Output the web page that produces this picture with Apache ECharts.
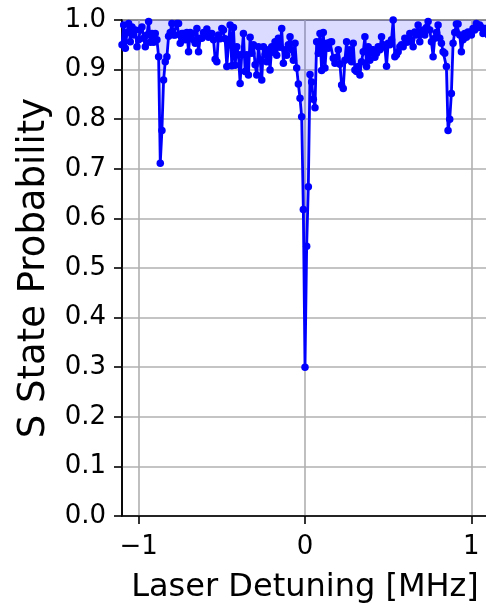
<!DOCTYPE html>
<html>
<head>
<meta charset="utf-8">
<script src="https://cdn.jsdelivr.net/npm/echarts@6/dist/echarts.min.js"></script>
<style>
  html, body { margin: 0; padding: 0; background: #ffffff; }
  #chart { width: 486px; height: 603px; }
</style>
</head>
<body>
<div id="chart"></div>
<script>
// Laser frequency scan: detuning grid (MHz) and measured S-state probability
const scanStart = -1.10;
const scanStep = 0.01;
const sProbability = [
  0.950, 0.990, 0.943, 0.975, 0.993, 0.956, 0.986, 0.970, 0.980, 0.946,
  0.960, 0.980, 0.986, 0.963, 0.946, 0.970, 0.997, 0.955, 0.973, 0.955,
  0.973, 0.960, 0.926, 0.711, 0.777, 0.879, 0.916, 0.926, 0.967, 0.975,
  0.993, 0.970, 0.970, 0.993, 0.993, 0.953, 0.973, 0.973, 0.960, 0.975,
  0.936, 0.975, 0.973, 0.960, 0.953, 0.983, 0.936, 0.963, 0.963, 0.975,
  0.970, 0.982, 0.965, 0.970, 0.973, 0.960, 0.921, 0.916, 0.970, 0.962,
  0.983, 0.980, 0.962, 0.906, 0.950, 0.990, 0.908, 0.985, 0.909, 0.946,
  0.930, 0.872, 0.930, 0.973, 0.896, 0.930, 0.889, 0.965, 0.933, 0.950,
  0.910, 0.889, 0.946, 0.920, 0.879, 0.946, 0.930, 0.916, 0.940, 0.899,
  0.946, 0.935, 0.956, 0.929, 0.963, 0.945, 0.983, 0.913, 0.940, 0.929,
  0.950, 0.966, 0.940, 0.919, 0.953, 0.903, 0.871, 0.842, 0.805, 0.618,
  0.300, 0.544, 0.664, 0.890, 0.875, 0.840, 0.823, 0.956, 0.933, 0.973,
  0.898, 0.975, 0.903, 0.953, 0.943, 0.955, 0.956, 0.923, 0.913, 0.925,
  0.940, 0.911, 0.869, 0.862, 0.919, 0.956, 0.923, 0.940, 0.916, 0.953,
  0.899, 0.896, 0.906, 0.889, 0.916, 0.936, 0.966, 0.906, 0.946, 0.919,
  0.940, 0.940, 0.925, 0.933, 0.946, 0.940, 0.966, 0.950, 0.945, 0.907,
  0.953, 0.950, 0.960, 1.000, 0.926, 0.930, 0.936, 0.946, 0.950, 0.946,
  0.963, 0.955, 0.956, 0.973, 0.960, 0.946, 0.976, 0.970, 0.990, 0.956,
  0.975, 0.980, 0.970, 0.985, 0.997, 0.980, 0.956, 0.926, 0.963, 0.975,
  0.990, 0.963, 0.953, 0.936, 0.933, 0.906, 0.777, 0.800, 0.852, 0.953,
  0.975, 0.992, 0.992, 0.970, 0.936, 0.960, 0.973, 0.965, 0.976, 0.975,
  0.970, 0.983, 0.980, 0.993, 0.985, 0.990, 0.985, 0.973, 0.983, 0.975,
  0.970
];
const xTickValues = [-1, 0, 1];

const points = sProbability.map((p, i) => [+(scanStart + i * scanStep).toFixed(2), p]);

const FONT = 'DejaVu Sans';
const chart = echarts.init(document.getElementById('chart'), null, { renderer: 'canvas' });

chart.setOption({
  animation: false,
  backgroundColor: '#ffffff',
  grid: {
    left: 122, top: 20, right: -2, bottom: 87,
    outerBoundsMode: 'none',
    containLabel: false,
    show: true, borderColor: '#000000', borderWidth: 1.6, backgroundColor: 'transparent'
  },
  xAxis: {
    type: 'value',
    min: -1.1, max: 1.1,
    name: 'Laser Detuning [MHz]',
    nameLocation: 'middle',
    nameGap: 56,
    nameTextStyle: { fontFamily: FONT, fontSize: 32, color: '#000000' },
    axisLine: { show: true, onZero: false, lineStyle: { color: '#000000', width: 1.6 } },
    axisTick: { show: true, length: 8, inside: false, customValues: xTickValues,
                lineStyle: { color: '#000000', width: 1.6 } },
    axisLabel: { customValues: xTickValues, margin: 18, fontFamily: FONT, fontSize: 26, color: '#000000',
                 formatter: v => String(v).replace('-', '\u2212') },
    splitLine: { show: true, lineStyle: { color: '#b0b0b0', width: 1.6 } }
  },
  yAxis: {
    type: 'value',
    min: 0, max: 1, interval: 0.1,
    name: 'S State Probability',
    nameLocation: 'middle',
    nameGap: 69,
    nameTextStyle: { fontFamily: FONT, fontSize: 37, color: '#000000' },
    axisLine: { show: true, onZero: false, lineStyle: { color: '#000000', width: 1.6 } },
    axisTick: { show: true, length: 8, inside: false, lineStyle: { color: '#000000', width: 1.6 } },
    axisLabel: { margin: 16, fontFamily: FONT, fontSize: 26, color: '#000000',
                 formatter: v => v.toFixed(1) },
    splitLine: { show: true, lineStyle: { color: '#b0b0b0', width: 1.6 } }
  },
  series: [{
    type: 'line',
    data: points,
    clip: true,
    symbol: 'circle',
    symbolSize: 7.5,
    showSymbol: true,
    itemStyle: { color: '#0000ff' },
    lineStyle: { color: '#0000ff', width: 2.8 },
    areaStyle: { origin: 'end', color: 'rgba(0,0,255,0.2)' }
  }]
});
</script>
</body>
</html>
